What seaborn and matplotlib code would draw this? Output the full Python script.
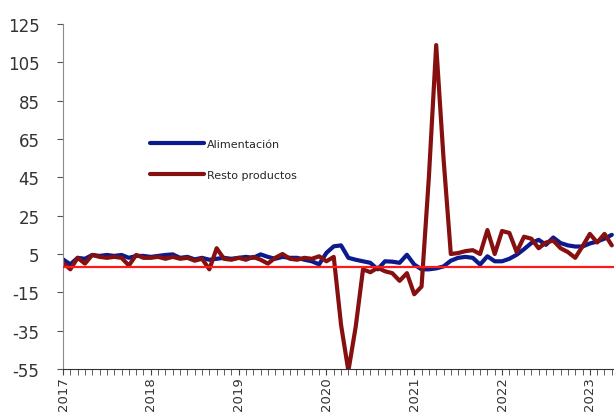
import numpy as np
import pandas as pd
import matplotlib
matplotlib.use("Agg")
import matplotlib.pyplot as plt
import seaborn as sns

# monthly series, Jan 2017 onwards (index 0 = Jan 2017)
alimentacion = [
    2.2, -0.4, 3, 2.5, 4.5, 4, 4.5, 4, 4.5, 3, 4, 4,
    3.5, 4, 4.5, 4.8, 3, 3.5, 2.2, 3, 2, 2.5, 3, 2.5,
    3, 3.5, 3, 4.8, 3.5, 2.5, 3.5, 3, 3, 2, 1.2, -0.4,
    5.6, 9, 9.5, 3, 2, 1.2, 0.4, -3, 1.2, 1, 0.4, 4.6,
    -0.5, -3, -3, -2.5, -1.5, 1.5, 3, 3.5, 3, -0.5, 3.8, 1.2,
    1.2, 2.5, 4.6, 7.5, 10.7, 12.4, 9.8, 13.6, 10.7, 9.5, 8.9, 8.9,
    10.5, 11.5, 13, 15,
]
resto_productos = [
    0.5, -3, 3, 0, 4.5, 3.5, 3, 3.5, 3, -1, 4.5, 3,
    3, 3.5, 2.5, 3.5, 2.5, 3, 1.5, 2.5, -3, 8, 2.5, 2,
    3, 2, 3.5, 2, 0, 3, 5, 2.5, 2, 3, 2.5, 3.8,
    1.2, 3.5, -32, -56, -33, -3, -4.5, -2.2, -4, -5, -9, -5,
    -16, -12, 45, 114, 55, 5, 5.5, 6.5, 7, 5, 17.5, 5,
    17, 16, 6, 14, 13, 8, 11, 12, 8, 6, 3, 9,
    15.5, 11, 15.5, 9.5,
]
years = ["2017", "2018", "2019", "2020", "2021", "2022", "2023"]
y_ticks = [-55, -35, -15, 5, 25, 45, 65, 85, 105, 125]
ref_level = -2

sns.set_style("white")
plt.rcParams["font.family"] = ["DejaVu Sans"]

n = len(alimentacion)
df = pd.DataFrame({
    "mes": list(range(n)) * 2,
    "valor": alimentacion + resto_productos,
    "serie": ["Alimentación"] * n + ["Resto productos"] * n,
})

fig = plt.figure(figsize=(6.14, 4.14), dpi=100)
ax = fig.add_axes([63 / 614, 1 - 370 / 414, 1 - 63 / 614, (370 - 25) / 414])

sns.lineplot(
    data=df, x="mes", y="valor", hue="serie",
    palette={"Alimentación": "#0b1a8c", "Resto productos": "#861010"},
    linewidth=3, ax=ax, legend=False,
)
ax.axhline(ref_level, color="#ff1a1a", lw=1.6, zorder=5)

ax.set_xlim(0, 75.3)
ax.set_ylim(-55, 125)
ax.set_yticks(y_ticks)
ax.set_yticklabels([str(t) for t in y_ticks], fontsize=12, color="#333333")
ax.set_xticks([12 * i for i in range(len(years))])
ax.set_xticklabels(years, rotation=90, fontsize=9.5, va="top", ha="center",
                   color="#333333")
ax.set_xticks(np.arange(0, 76), minor=True)
ax.set_xlabel("")
ax.set_ylabel("")

for s in ["top", "right"]:
    ax.spines[s].set_visible(False)
ax.spines["left"].set_color("#8c8c8c")
ax.spines["bottom"].set_color("#333333")
ax.tick_params(axis="y", which="major", direction="out", length=4, color="#555555",
               left=True, pad=13)
ax.tick_params(axis="x", which="both", direction="out", length=4, color="#444444",
               bottom=True, pad=1)

handles = [
    plt.Line2D([], [], color="#0b1a8c", lw=3),
    plt.Line2D([], [], color="#861010", lw=3),
]
fig.legend(
    handles, ["Alimentación", "Resto productos"],
    loc="upper left", bbox_to_anchor=(150 / 614, 1 - 140 / 414),
    frameon=False, fontsize=8, handlelength=4.9, handletextpad=0.2,
    labelspacing=1.9, borderpad=0, borderaxespad=0,
)

fig.savefig("out.png", dpi=100)
